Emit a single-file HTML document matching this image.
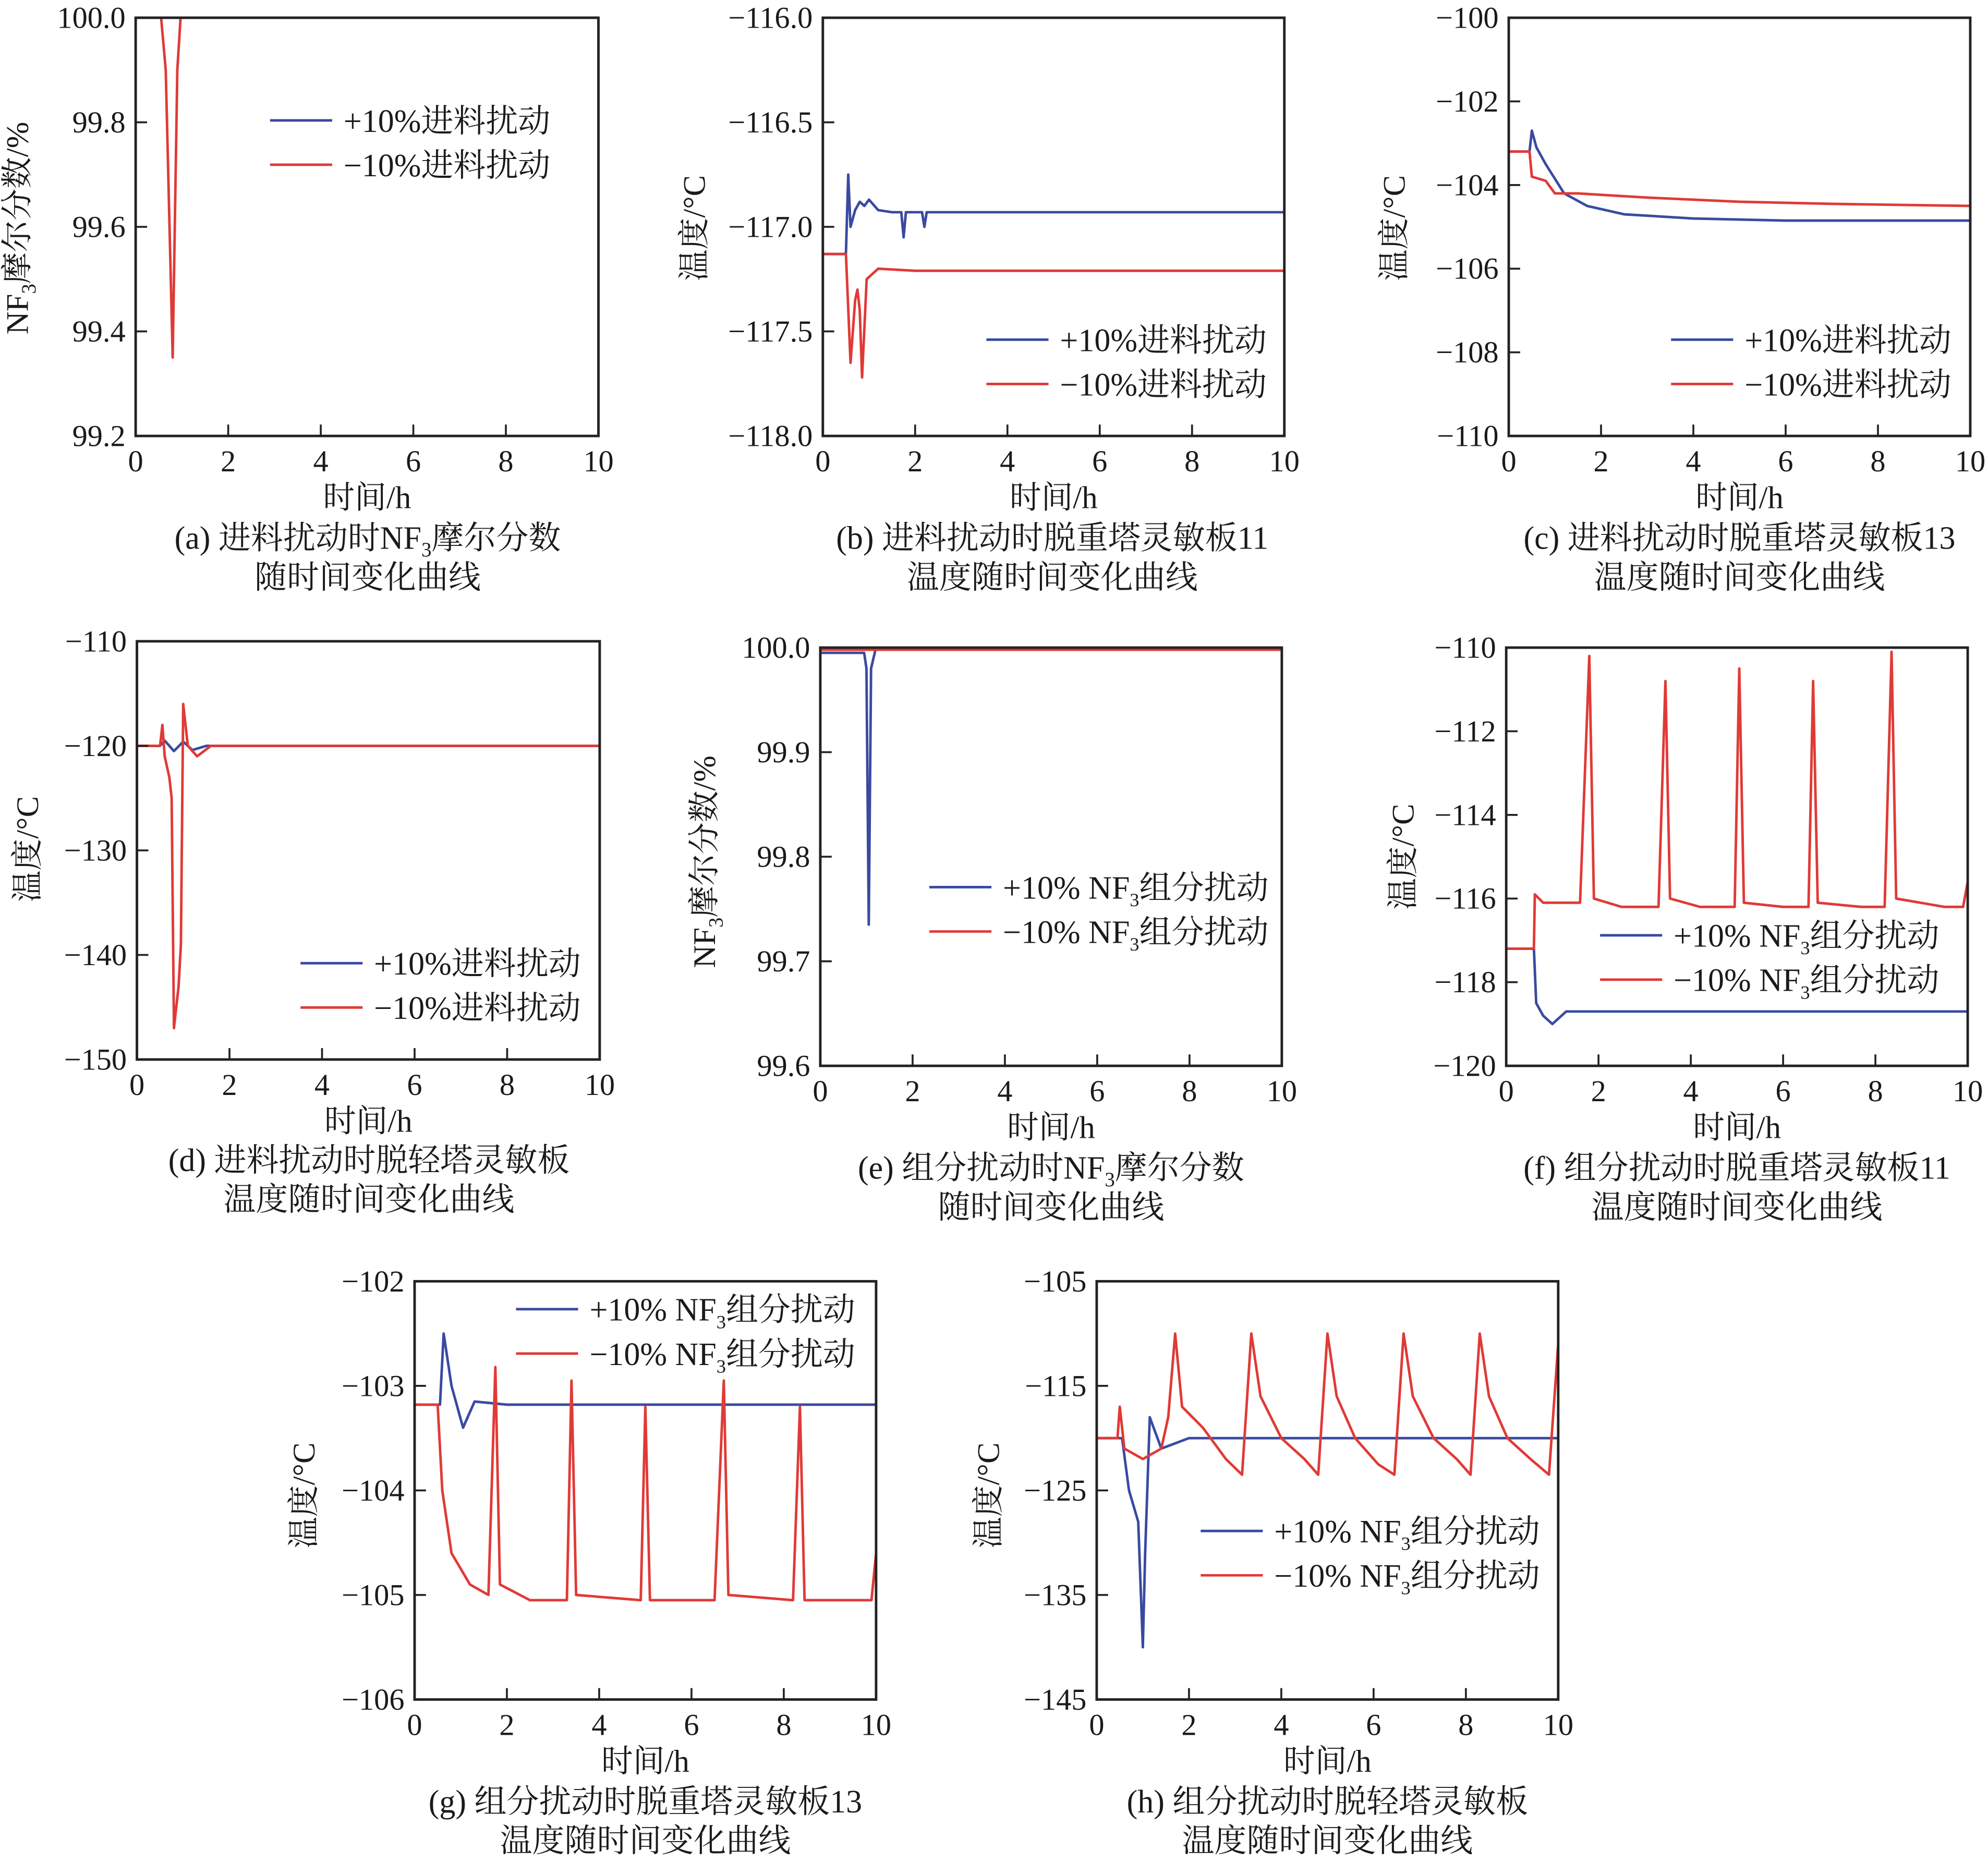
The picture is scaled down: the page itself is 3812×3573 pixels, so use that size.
<!DOCTYPE html>
<html><head><meta charset="utf-8">
<style>
html,body{margin:0;padding:0;background:#fff;}
svg{display:block;}
text{font-family:"Liberation Serif","Noto Serif CJK SC",serif;fill:#1a1a1a;}
</style></head>
<body>
<svg id="chart" width="3812" height="3573" viewBox="0 0 1568 1470" preserveAspectRatio="none" xmlns="http://www.w3.org/2000/svg"></svg>
<script>
const xTicks = [0,2,4,6,8,10];
const aBlueX=[0,10]; const aBlueY=[100,100];
const aRedX=[0,0.55,0.65,0.8,0.9,0.97,10]; const aRedY=[100,100,99.9,99.35,99.9,100,100];
const bBlueX=[0,0.5,0.55,0.6,0.7,0.8,0.9,1.0,1.2,1.5,1.7,1.75,1.8,2.15,2.2,2.25,10];
const bBlueY=[-117.13,-117.13,-116.75,-117.0,-116.92,-116.88,-116.9,-116.87,-116.92,-116.93,-116.93,-117.05,-116.93,-116.93,-117.0,-116.93,-116.93];
const bRedX=[0,0.5,0.6,0.7,0.75,0.8,0.85,0.95,1.2,2,10];
const bRedY=[-117.13,-117.13,-117.65,-117.35,-117.3,-117.4,-117.72,-117.25,-117.2,-117.21,-117.21];
const cBlueX=[0,0.45,0.5,0.6,0.8,1.2,1.7,2.5,4,6,10];
const cBlueY=[-103.2,-103.2,-102.7,-103.1,-103.5,-104.2,-104.5,-104.7,-104.8,-104.85,-104.85];
const cRedX=[0,0.45,0.5,0.8,1.0,1.5,3,5,7,10];
const cRedY=[-103.2,-103.2,-103.8,-103.9,-104.2,-104.2,-104.3,-104.4,-104.45,-104.5];
const dBlueX=[0,0.5,0.6,0.8,1.0,1.2,1.5,1.8,10];
const dBlueY=[-120,-120,-119.5,-120.5,-119.6,-120.4,-120,-120,-120];
const dRedX=[0,0.5,0.55,0.6,0.7,0.75,0.8,0.9,0.95,1.0,1.1,1.3,1.6,10];
const dRedY=[-120,-120,-118,-121,-123,-125,-147,-143,-139,-116,-120,-121,-120,-120];
const eBlueX=[0,0.95,1.0,1.05,1.1,1.2,10];
const eBlueY=[99.995,99.995,99.98,99.735,99.98,99.999,99.999];
const eRedX=[0,10]; const eRedY=[99.998,99.998];
const fBlueX=[0,0.6,0.65,0.8,1.0,1.3,10];
const fBlueY=[-117.2,-117.2,-118.5,-118.8,-119,-118.7,-118.7];
const fRedX=[0,0.6,0.62,0.8,1.6,1.8,1.9,2.5,3.3,3.45,3.55,4.2,4.95,5.05,5.15,6.0,6.55,6.65,6.75,7.7,8.2,8.35,8.45,9.5,9.9,10];
const fRedY=[-117.2,-117.2,-115.9,-116.1,-116.1,-110.2,-116,-116.2,-116.2,-110.8,-116.0,-116.2,-116.2,-110.5,-116.1,-116.2,-116.2,-110.8,-116.1,-116.2,-116.2,-110.1,-116.0,-116.2,-116.2,-115.6];
const gBlueX=[0,0.55,0.63,0.8,1.05,1.3,2,10];
const gBlueY=[-103.18,-103.18,-102.5,-103.0,-103.4,-103.15,-103.18,-103.18];
const gRedX=[0,0.5,0.6,0.8,1.2,1.6,1.75,1.85,2.5,3.3,3.4,3.5,4.9,5.0,5.1,6.5,6.7,6.8,8.2,8.35,8.45,9.9,10];
const gRedY=[-103.18,-103.18,-104,-104.6,-104.9,-105,-102.82,-104.9,-105.05,-105.05,-102.95,-105,-105.05,-103.2,-105.05,-105.05,-102.95,-105,-105.05,-103.2,-105.05,-105.05,-104.6];
const hBlueX=[0,0.55,0.7,0.9,1.0,1.05,1.15,1.4,2,10];
const hBlueY=[-120,-120,-125,-128,-140,-131,-118,-121,-120,-120];
const hRedX=[0,0.45,0.5,0.6,1.0,1.4,1.55,1.7,1.85,2.3,2.8,3.15,3.35,3.55,4,4.5,4.8,5.0,5.2,5.6,6.1,6.45,6.65,6.85,7.3,7.8,8.1,8.3,8.5,8.9,9.4,9.8,10];
const hRedY=[-120,-120,-117,-121,-122,-121,-118,-110,-117,-119,-122,-123.5,-110,-116,-120,-122,-123.5,-110,-116,-120,-122.5,-123.5,-110,-116,-120,-122,-123.5,-110,-116,-120,-122,-123.5,-111];

const aTicks=[99.2,99.4,99.6,99.8,100.0], aLab=["99.2","99.4","99.6","99.8","100.0"];
const bTicks=[-118,-117.5,-117,-116.5,-116], bLab=["−118.0","−117.5","−117.0","−116.5","−116.0"];
const cTicks=[-110,-108,-106,-104,-102,-100], cLab=["−110","−108","−106","−104","−102","−100"];
const dTicks=[-150,-140,-130,-120,-110], dLab=["−150","−140","−130","−120","−110"];
const eTicks=[99.6,99.7,99.8,99.9,100.0], eLab=["99.6","99.7","99.8","99.9","100.0"];
const fTicks=[-120,-118,-116,-114,-112,-110], fLab=["−120","−118","−116","−114","−112","−110"];
const gTicks=[-106,-105,-104,-103,-102], gLab=["−106","−105","−104","−103","−102"];
const hTicks=[-145,-135,-125,-115,-105], hLab=["−145","−135","−125","−115","−105"];

const legFeed=["+10%进料扰动","−10%进料扰动"];
const legComp=["+10% NF<tspan font-size='15' dy='6'>3</tspan><tspan dy='-6'>组分扰动</tspan>","−10% NF<tspan font-size='15' dy='6'>3</tspan><tspan dy='-6'>组分扰动</tspan>"];

const panels=[
 {id:'a',L:107,R:472,T:14,B:344,ymin:99.2,ymax:100,ticks:aTicks,lab:aLab,bx:aBlueX,by:aBlueY,rx:aRedX,ry:aRedY,leg:legFeed,lx:213,ly:95,
  ylab:"NF<tspan font-size='16' dy='6'>3</tspan><tspan dy='-6'>摩尔分数/%</tspan>",ylx:22,yly:180,cap:["(a) 进料扰动时NF<tspan font-size='16' dy='6'>3</tspan><tspan dy='-6'>摩尔分数</tspan>","随时间变化曲线"],cx:290,cy:425},
 {id:'b',L:649,R:1013,T:14,B:344,ymin:-118,ymax:-116,ticks:bTicks,lab:bLab,bx:bBlueX,by:bBlueY,rx:bRedX,ry:bRedY,leg:legFeed,lx:778,ly:268,
  ylab:"温度/°C",ylx:556,yly:180,cap:["(b) 进料扰动时脱重塔灵敏板11","温度随时间变化曲线"],cx:830,cy:425},
 {id:'c',L:1190,R:1554,T:14,B:344,ymin:-110,ymax:-100,ticks:cTicks,lab:cLab,bx:cBlueX,by:cBlueY,rx:cRedX,ry:cRedY,leg:legFeed,lx:1318,ly:268,
  ylab:"温度/°C",ylx:1108,yly:180,cap:["(c) 进料扰动时脱重塔灵敏板13","温度随时间变化曲线"],cx:1372,cy:425},
 {id:'d',L:108,R:473,T:506,B:836,ymin:-150,ymax:-110,ticks:dTicks,lab:dLab,bx:dBlueX,by:dBlueY,rx:dRedX,ry:dRedY,leg:legFeed,lx:237,ly:760,
  ylab:"温度/°C",ylx:30,yly:670,cap:["(d) 进料扰动时脱轻塔灵敏板","温度随时间变化曲线"],cx:291,cy:916},
 {id:'e',L:647,R:1011,T:511,B:841,ymin:99.6,ymax:100,ticks:eTicks,lab:eLab,bx:eBlueX,by:eBlueY,rx:eRedX,ry:eRedY,leg:legComp,lx:733,ly:700,
  ylab:"NF<tspan font-size='16' dy='6'>3</tspan><tspan dy='-6'>摩尔分数/%</tspan>",ylx:564,yly:680,cap:["(e) 组分扰动时NF<tspan font-size='16' dy='6'>3</tspan><tspan dy='-6'>摩尔分数</tspan>","随时间变化曲线"],cx:829,cy:922},
 {id:'f',L:1188,R:1552,T:511,B:841,ymin:-120,ymax:-110,ticks:fTicks,lab:fLab,bx:fBlueX,by:fBlueY,rx:fRedX,ry:fRedY,leg:legComp,lx:1262,ly:738,
  ylab:"温度/°C",ylx:1115,yly:676,cap:["(f) 组分扰动时脱重塔灵敏板11","温度随时间变化曲线"],cx:1370,cy:922},
 {id:'g',L:327,R:691,T:1011,B:1341,ymin:-106,ymax:-102,ticks:gTicks,lab:gLab,bx:gBlueX,by:gBlueY,rx:gRedX,ry:gRedY,leg:legComp,lx:407,ly:1033,
  ylab:"温度/°C",ylx:248,yly:1180,cap:["(g) 组分扰动时脱重塔灵敏板13","温度随时间变化曲线"],cx:509,cy:1422},
 {id:'h',L:865,R:1229,T:1011,B:1341,ymin:-145,ymax:-105,ticks:hTicks,lab:hLab,bx:hBlueX,by:hBlueY,rx:hRedX,ry:hRedY,leg:legComp,lx:947,ly:1208,
  ylab:"温度/°C",ylx:788,yly:1180,cap:["(h) 组分扰动时脱轻塔灵敏板","温度随时间变化曲线"],cx:1047,cy:1422}
];
const svg=document.getElementById('chart');
const NS='http://www.w3.org/2000/svg';
function mk(tag,attrs,parent){const e=document.createElementNS(NS,tag);for(const k in attrs)e.setAttribute(k,attrs[k]);parent.appendChild(e);return e;}
panels.forEach(p=>{
  const g=mk('g',{},svg);
  
  
  const xs=v=>p.L+(v/10)*(p.R-p.L);
  const ys=v=>p.B-(v-p.ymin)/(p.ymax-p.ymin)*(p.B-p.T);
  const clip=mk('clipPath',{id:'clip'+p.id},g);
  mk('rect',{x:p.L,y:p.T-1,width:p.R-p.L,height:p.B-p.T+2},clip);
  const line=(X,Y,col,name)=>{
    const d=X.map((x,i)=>(i?'L':'M')+xs(x).toFixed(2)+','+ys(Y[i]).toFixed(2)).join(' ');
    const pa=mk('path',{d:d,fill:'none',stroke:col,'stroke-width':2,'clip-path':`url(#clip${p.id})`,'stroke-linejoin':'round'},g);
    
    
  };
  line(p.bx,p.by,'#3a4aa0','series-plus-10');
  line(p.rx,p.ry,'#e03a36','series-minus-10');
  const box=mk('rect',{x:p.L,y:p.T,width:p.R-p.L,height:p.B-p.T,fill:'none',stroke:'#222','stroke-width':2},g);
  
  
  xTicks.forEach(t=>{
    mk('line',{x1:xs(t),x2:xs(t),y1:p.B,y2:p.B-9,stroke:'#222','stroke-width':1.5},g);
    const tx=mk('text',{x:xs(t),y:p.B+28,'font-size':24,'text-anchor':'middle'},g);
    tx.textContent=t;
    
    
  });
  p.ticks.forEach((t,i)=>{
    mk('line',{x1:p.L,x2:p.L+9,y1:ys(t),y2:ys(t),stroke:'#222','stroke-width':1.5},g);
    const ty=mk('text',{x:p.L-8,y:ys(t)+8,'font-size':24,'text-anchor':'end'},g);
    ty.textContent=p.lab[i];
    
    
  });
  const xl=mk('text',{x:(p.L+p.R)/2,y:p.B+57,'font-size':25,'text-anchor':'middle'},g);
  xl.textContent='时间/h';
  
  
  const yl=mk('text',{x:0,y:0,'font-size':25,'text-anchor':'middle',transform:`translate(${p.ylx},${p.yly}) rotate(-90)`},g);
  yl.innerHTML=p.ylab;
  
  
  p.cap.forEach((c,i)=>{
    const ct=mk('text',{x:p.cx,y:p.cy+8+i*31,'font-size':25.5,'text-anchor':'middle'},g);
    ct.innerHTML=c;
    
    
  });
  [['#3a4aa0',0],['#e03a36',1]].forEach(([col,i])=>{
    const le=mk('g',{},g);
    
    
    mk('line',{x1:p.lx,x2:p.lx+49,y1:p.ly+i*35,y2:p.ly+i*35,stroke:col,'stroke-width':2},le);
    const lt=mk('text',{x:p.lx+58,y:p.ly+i*35+9,'font-size':25.5},le);
    lt.innerHTML=p.leg[i];
  });
});
</script>
</body></html>
